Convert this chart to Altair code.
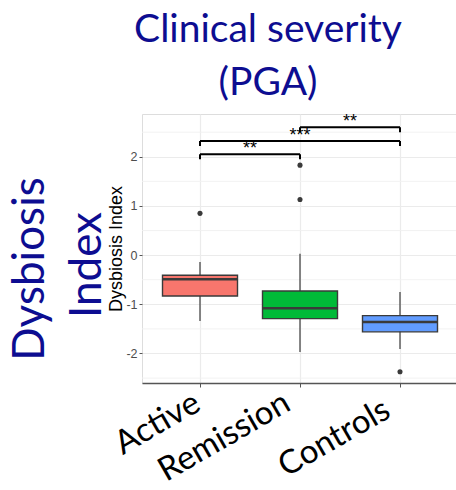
import altair as alt
import pandas as pd

# Box summaries per group
groups = ["Active", "Remission", "Controls"]
fills = ["#F8766D", "#00BA38", "#619CFF"]
whisker_low = [-1.34, -1.97, -1.91]
q1 = [-0.83, -1.29, -1.56]
median = [-0.49, -1.08, -1.36]
q3 = [-0.41, -0.73, -1.23]
whisker_high = [-0.14, 0.03, -0.75]

# Outlying observations
outlier_group = ["Active", "Remission", "Remission", "Controls"]
outlier_value = [0.85, 1.83, 1.13, -2.37]

# Pairwise significance brackets
bracket_from = ["Active", "Active", "Remission"]
bracket_to = ["Remission", "Controls", "Controls"]
bracket_y = [2.05, 2.32, 2.60]
bracket_label = ["**", "***", "**"]
tip_drop = 0.1

# Axis ticks and half-step grid
major_ticks = [-2, -1, 0, 1, 2]
minor_grid = [-2.5, -1.5, -0.5, 0.5, 1.5, 2.5]

BOX_HALF = 0.375
INK = "#3a3a3a"
BLUE = "#0d0d91"

pos = {g: i for i, g in enumerate(groups)}

boxes = pd.DataFrame({
    "group": groups,
    "pos": [pos[g] for g in groups],
    "lo": whisker_low, "q1": q1, "med": median, "q3": q3, "hi": whisker_high,
})
boxes["left"] = boxes["pos"] - BOX_HALF
boxes["right"] = boxes["pos"] + BOX_HALF

outliers = pd.DataFrame({
    "pos": [pos[g] for g in outlier_group],
    "value": outlier_value,
})

brackets = pd.DataFrame({
    "x1": [pos[g] for g in bracket_from],
    "x2": [pos[g] for g in bracket_to],
    "y": bracket_y,
    "label": bracket_label,
})
brackets["mid"] = (brackets["x1"] + brackets["x2"]) / 2
tips = pd.DataFrame({
    "x": list(brackets["x1"]) + list(brackets["x2"]),
    "top": list(brackets["y"]) * 2,
})
tips["bottom"] = tips["top"] - tip_drop

minor = pd.DataFrame({"y": minor_grid})
side_title = pd.DataFrame({"line": ["Dysbiosis", "Index"]})

x_scale = alt.Scale(domain=[-0.58, 2.56], nice=False, zero=False)
y_scale = alt.Scale(domain=[-2.6, 2.87], nice=False, zero=False)

label_list = "[" + ",".join(f"'{g}'" for g in groups) + "]"
x_axis = alt.Axis(
    values=list(range(len(groups))),
    labelExpr=f"{label_list}[datum.value]",
    title=None,
    grid=True,
    gridColor="#ebebeb",
    gridWidth=1.2,
    domain=True,
    domainColor="#555555",
    domainWidth=1.5,
    ticks=True,
    tickSize=4,
    tickColor="#555555",
    labelFont="Lato",
    labelFontSize=33,
    labelColor="black",
    labelAngle=-30,
    labelAlign="right",
    labelBaseline="middle",
    labelPadding={"condition": {"test": "datum.value == 2", "value": 20}, "value": 13},
    labelOffset={"condition": {"test": "datum.value == 0", "value": -3}, "value": -13},
    labelOverlap=False,
    labelBound=False,
)
y_axis = alt.Axis(
    values=major_ticks,
    labelExpr="toString(datum.value)",
    title="Dysbiosis Index",
    titleFont="Liberation Sans",
    titleFontSize=18,
    titleFontWeight="normal",
    titleColor="black",
    titlePadding=0,
    grid=True,
    gridColor="#ebebeb",
    gridWidth=1.2,
    domain=False,
    tickSize=3,
    tickColor="#555555",
    labelFont="Liberation Sans",
    labelFontSize=12.5,
    labelColor="#4d4d4d",
    labelPadding=2,
)


def X(field):
    return alt.X(field, scale=x_scale, axis=x_axis)


def Y(field):
    return alt.Y(field, scale=y_scale, axis=y_axis)


minor_layer = alt.Chart(minor).mark_rule(color="#f0f0f0", strokeWidth=0.9).encode(
    y=Y("y:Q")
)

whiskers = alt.Chart(boxes).mark_rule(color=INK, strokeWidth=1.2).encode(
    x=X("pos:Q"),
    y=Y("lo:Q"),
    y2="hi:Q",
)

box_layer = alt.Chart(boxes).mark_rect(stroke=INK, strokeWidth=1.4).encode(
    x=X("left:Q"),
    x2="right:Q",
    y=Y("q1:Q"),
    y2="q3:Q",
    fill=alt.Fill("group:N", scale=alt.Scale(domain=groups, range=fills), legend=None),
)

median_layer = alt.Chart(boxes).mark_rule(color=INK, strokeWidth=2.6).encode(
    x=X("left:Q"),
    x2="right:Q",
    y=Y("med:Q"),
)

outlier_layer = alt.Chart(outliers).mark_circle(color=INK, size=26, opacity=1).encode(
    x=X("pos:Q"),
    y=Y("value:Q"),
)

bracket_layer = alt.Chart(brackets).mark_rule(color="black", strokeWidth=2).encode(
    x=X("x1:Q"),
    x2="x2:Q",
    y=Y("y:Q"),
)

tip_layer = alt.Chart(tips).mark_rule(color="black", strokeWidth=2).encode(
    x=X("x:Q"),
    y=Y("top:Q"),
    y2="bottom:Q",
)

star_layer = alt.Chart(brackets).mark_text(
    color="black", fontSize=18, font="Liberation Sans", baseline="middle", dy=-5
).encode(
    x=X("mid:Q"),
    y=Y("y:Q"),
    text="label:N",
)

side_style = dict(angle=270, font="Lato", fontSize=44, color=BLUE,
                  align="center", baseline="middle")

dysbiosis_text = alt.Chart(side_title).transform_filter(
    "datum.line == 'Dysbiosis'"
).mark_text(**side_style).encode(
    x=alt.value(-111), y=alt.value(155), text="line:N"
)

index_text = alt.Chart(side_title).transform_filter(
    "datum.line == 'Index'"
).mark_text(**side_style).encode(
    x=alt.value(-54), y=alt.value(151), text="line:N"
)

chart = alt.layer(
    minor_layer, whiskers, box_layer, median_layer, outlier_layer,
    bracket_layer, tip_layer, star_layer, dysbiosis_text, index_text,
).properties(
    width=314,
    height=269,
    autosize=alt.AutoSizeParams(type="none"),
    padding={"left": 142, "top": 114, "right": 0, "bottom": 107},
    title=alt.TitleParams(
        ["Clinical severity", "(PGA)"],
        font="Lato",
        fontSize=39,
        fontWeight="normal",
        color=BLUE,
        anchor="middle",
        frame="group",
        dx=-31,
        lineHeight=53,
        offset=10,
    ),
).configure_view(
    stroke="#a6a6a6", strokeWidth=1.2
).configure(background="white")

chart.save("out.html", embed_options={"renderer": "svg", "actions": False})
